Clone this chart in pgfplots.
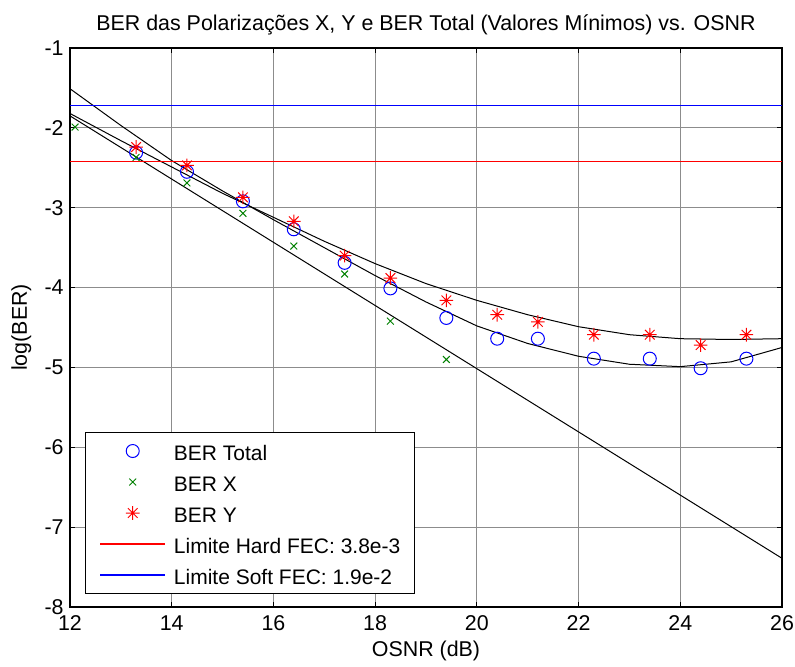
\documentclass[border=0pt]{standalone}
\usepackage{fontspec}
\setmainfont{Liberation Sans}
\usepackage{pgfplots}
\pgfplotsset{compat=1.18}

% MATLAB style asterisk: plus and cross together
\pgfdeclareplotmark{mstar}{%
  \pgfpathmoveto{\pgfqpoint{-\pgfplotmarksize}{0pt}}%
  \pgfpathlineto{\pgfqpoint{\pgfplotmarksize}{0pt}}%
  \pgfpathmoveto{\pgfqpoint{0pt}{-\pgfplotmarksize}}%
  \pgfpathlineto{\pgfqpoint{0pt}{\pgfplotmarksize}}%
  \pgfpathmoveto{\pgfqpoint{-0.707\pgfplotmarksize}{-0.707\pgfplotmarksize}}%
  \pgfpathlineto{\pgfqpoint{0.707\pgfplotmarksize}{0.707\pgfplotmarksize}}%
  \pgfpathmoveto{\pgfqpoint{-0.707\pgfplotmarksize}{0.707\pgfplotmarksize}}%
  \pgfpathlineto{\pgfqpoint{0.707\pgfplotmarksize}{-0.707\pgfplotmarksize}}%
  \pgfusepathqstroke}

\definecolor{mgreen}{RGB}{0,128,0}

\begin{document}
\fontsize{10.7}{12.8}\selectfont
\begin{tikzpicture}
\path[use as bounding box] (-35pt,-29.5pt) rectangle (362.5pt,303.5pt);
\begin{axis}[
    at={(0pt,0pt)}, anchor=south west,
    scale only axis,
    width=356pt, height=279.5pt,
    xmin=12, xmax=26, ymin=-8, ymax=-1,
    xtick={12,14,...,26},
    xticklabels={12,14,16,18,20,22,24,26},
    ytick={-8,-7,...,-1},
    yticklabels={-8,-7,-6,-5,-4,-3,-2,-1},
    tick align=inside, tick pos=both,
    major tick length=2.5pt,
    tick style={black, line width=0.5pt},
    axis line style={line width=0.6pt},
    grid=major,
    major grid style={black!45, line width=0.5pt},
    xticklabel style={anchor=base, inner sep=0pt, yshift=-11.5pt},
    yticklabel style={anchor=east, inner sep=0pt, xshift=-3pt},
    title={BER das Polarizações X, Y e BER Total (Valores Mínimos) vs. OSNR},
    title style={at={(axis description cs:0.5,1.0322)}, anchor=base, inner sep=0pt, yshift=-6pt},
    xlabel={OSNR (dB)},
    xlabel style={at={(axis description cs:0.5,-0.0894)}, anchor=base, inner sep=0pt},
    ylabel={log(BER)},
    ylabel style={at={(axis description cs:-0.0604,0.5)}, anchor=base, inner sep=0pt},
    legend cell align=left,
    legend image code/.code={\draw[mark repeat=2,mark phase=2,#1] plot coordinates {(0pt,0pt) (16.25pt,0pt) (32.5pt,0pt)};},
    legend style={at={(axis description cs:0.0211,0.02326)}, anchor=south west,
        draw=black, line width=0.5pt, fill=white,
        font=\fontsize{10.5}{12}\selectfont,
        inner xsep=7pt, inner ysep=4pt, row sep=5pt,
        /tikz/every odd column/.style={column sep=4pt},
        nodes={text height=10.2pt, text depth=0.3pt, inner xsep=0pt, inner ysep=0pt}},
]
\addplot[only marks, mark=o, mark size=3.25pt, blue, line width=0.5pt] coordinates {
    (13.3,-2.31) (14.3,-2.55) (15.4,-2.92) (16.4,-3.27) (17.4,-3.69)
    (18.3,-4.01) (19.4,-4.38) (20.4,-4.64) (21.2,-4.64) (22.3,-4.89)
    (23.4,-4.89) (24.4,-5.01) (25.3,-4.89)
};
\addlegendentry{BER Total}
\addplot[only marks, mark=x, mark size=2.4pt, mgreen, line width=0.5pt] coordinates {
    (12.1,-1.99) (13.3,-2.37) (14.3,-2.69) (15.4,-3.07) (16.4,-3.48)
    (17.4,-3.83) (18.3,-4.42) (19.4,-4.90)
};
\addlegendentry{BER X}
\addplot[only marks, mark=mstar, mark size=3.4pt, red, line width=0.5pt] coordinates {
    (13.3,-2.24) (14.3,-2.47) (15.4,-2.87) (16.4,-3.17) (17.4,-3.60)
    (18.3,-3.88) (19.4,-4.16) (20.4,-4.34) (21.2,-4.43) (22.3,-4.59)
    (23.4,-4.59) (24.4,-4.72) (25.3,-4.59)
};
\addlegendentry{BER Y}
% fitted curves
\addplot[draw=black, line width=0.5pt, mark=none, forget plot] coordinates {
    (12,-1.51) (13,-1.97) (14,-2.41) (15,-2.79) (16,-3.15) (17,-3.50)
    (18,-3.85) (19,-4.18) (20,-4.48) (21,-4.70) (22,-4.86) (23,-4.96)
    (24,-4.99) (25,-4.93) (26,-4.75)
};
\addplot[draw=black, line width=0.5pt, mark=none, forget plot] coordinates {
    (12,-1.82) (13,-2.16) (14,-2.49) (15,-2.82) (16,-3.12) (17,-3.42)
    (18,-3.70) (19,-3.95) (20,-4.16) (21,-4.34) (22,-4.49) (23,-4.59)
    (24,-4.64) (25,-4.65) (26,-4.64)
};
\addplot[draw=black, line width=0.5pt, mark=none, forget plot] coordinates {
    (12,-1.85) (19,-4.62) (26,-7.39)
};
% FEC limits
\addplot[draw=red, line width=0.7pt, mark=none] table {
x y
12 -2.42
26 -2.42
};
\addlegendentry{Limite Hard FEC: 3.8e-3}
\addplot[draw=blue, line width=0.7pt, mark=none] table {
x y
12 -1.72
26 -1.72
};
\addlegendentry{Limite Soft FEC: 1.9e-2}
\end{axis}
\end{tikzpicture}
\end{document}
